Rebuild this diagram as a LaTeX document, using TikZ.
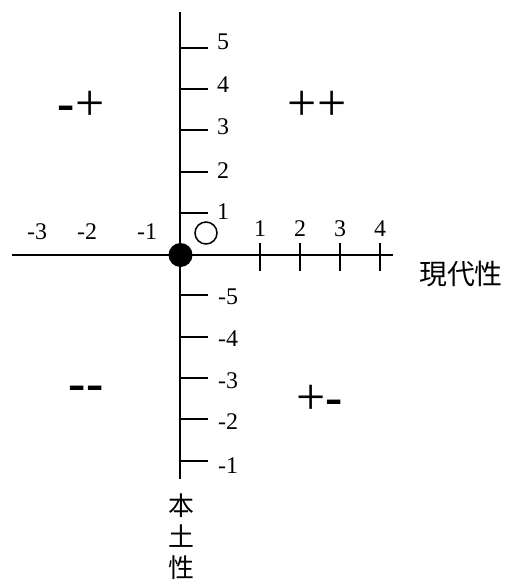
\documentclass[tikz,border=0pt]{standalone}
\usepackage{fontspec}
\setmainfont{Liberation Serif}
\newfontfamily\cjk{Noto Sans CJK TC}
\begin{document}
\begin{tikzpicture}[x=1bp,y=-1bp,
  axis/.style={line width=2bp},
  tickline/.style={line width=1.6bp},
  num/.style={font=\fontsize{24}{24}\selectfont, inner sep=0},
  sign/.style={font=\fontsize{52}{52}\selectfont, inner sep=0},
  cjklabel/.style={font=\cjk\fontsize{28}{28}\selectfont, inner sep=0}]
\useasboundingbox (0,0) rectangle (513,583);
% axes
\coordinate (vtop) at (180,12);
\coordinate (vbot) at (180,479);
\coordinate (hleft) at (12,255);
\coordinate (hright) at (393,255);
\draw[axis] (vtop) -- (vbot);
\draw[axis] (hleft) -- (hright);
% upper ticks
\foreach \y/\ly/\n in {48/42/5, 89/85/4, 130/127/3, 172/171/2, 213/212/1} {
  \coordinate (tu\n) at (180,\y);
  \coordinate (tue\n) at (208,\y);
  \draw[tickline] (tu\n) -- (tue\n);
  \node[num] (lu\n) at (223,\ly) {\n};
}
% lower ticks
\foreach \y/\ly/\n in {295/297/5, 337/339/4, 378/381/3, 419/422/2, 461/466/1} {
  \coordinate (td\n) at (180,\y);
  \coordinate (tde\n) at (208,\y);
  \draw[tickline] (td\n) -- (tde\n);
  \node[num] (ld\n) at (228,\ly) {-\n};
}
% horizontal ticks
\foreach \x/\n in {260/1, 300/2, 340/3, 380/4} {
  \coordinate (ht\n) at (\x,243);
  \coordinate (hb\n) at (\x,271);
  \draw[tickline] (ht\n) -- (hb\n);
  \node[num] (lh\n) at (\x,229) {\n};
}
% left labels
\node[num] (ll3) at (37,232) {-3};
\node[num] (ll2) at (87,232) {-2};
\node[num] (ll1) at (147,232) {-1};
% points
\node[circle, fill=black, minimum size=24bp, inner sep=0] (origin) at (180.5,255) {};
\node[circle, draw=black, line width=1.5bp, minimum size=22bp, inner sep=0] (pt) at (206,233) {};
% quadrant signs
\node[sign] (q2) at (81,106) {\textbf{-}+};
\node[sign] (q1) at (317,106) {++};
\node[sign] (q3) at (86,393) {\textbf{-}\textbf{-}};
\node[sign] (q4) at (320,400) {+\textbf{-}};
% axis names
\node[cjklabel] (xname) at (461,274) {現代性};
\node[cjklabel, align=center, font=\cjk\fontsize{26}{31}\selectfont] (yname) at (181,537) {本\\土\\性};
\end{tikzpicture}
\end{document}
